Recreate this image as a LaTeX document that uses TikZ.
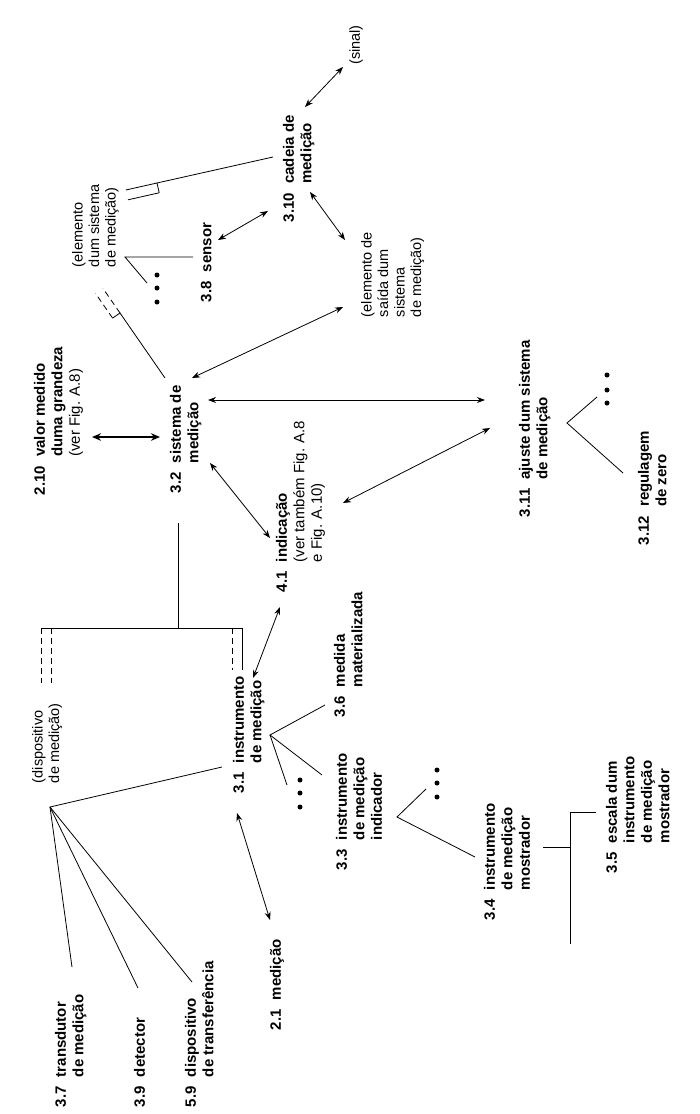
\documentclass[tikz,border=0pt]{standalone}
\usepackage{fontspec}
\setmainfont{Liberation Sans}
\usetikzlibrary{arrows.meta}
\newcommand\numsep{\hspace{9pt}}
\newcommand\gap[1]{\phantom{#1}\numsep}
\begin{document}
\begin{tikzpicture}[x=1pt,y=-1pt,
  term/.style={rotate=90,anchor=north west,inner sep=0pt,outer sep=0pt,align=left,font=\fontsize{15}{17.5}\selectfont\bfseries},
  note/.style={term,font=\fontsize{14.5}{16.5}\selectfont},
  conn/.style={line width=0.8pt},
  twoway/.style={conn,{Stealth[length=8pt,width=6pt]}-{Stealth[length=8pt,width=6pt]}},
  bigway/.style={line width=1.7pt,{Stealth[length=9pt,width=7.5pt]}-{Stealth[length=9pt,width=7.5pt]}},
  part/.style={conn,dash pattern=on 6pt off 4pt},
  dot/.style={circle,fill,inner sep=0pt,minimum size=5pt}
]
\useasboundingbox (0,0) rectangle (700,1114);

% ---------- labels ----------
\node[note,anchor=center] (sinal) at (356,45) {(sinal)};
\node[term] (t310) at (283,222) {3.10\numsep cadeia de\\\gap{3.10}medição};
\node[note] (elem) at (72,267) {(elemento\\dum sistema\\de medição)};
\node[term] (t38) at (201,302) {3.8\numsep sensor};
\node[note] (saida) at (361,317) {(elemento de\\saída dum\\sistema\\de medição)};
\node[term] (t210) at (34,495) {2.10\numsep valor medido\\\gap{2.10}duma grandeza\\\gap{2.10}{\mdseries (ver Fig. A.8)}};
\node[term] (t32) at (170,493) {3.2\numsep sistema de\\\gap{3.2}medição};
\node[term] (t41) at (276,592) {4.1\numsep indicação\\\gap{4.1}{\mdseries (ver também Fig. A.8}\\\gap{4.1}{\mdseries e Fig. A.10)}};
\node[term] (t311) at (519,517) {3.11\numsep ajuste dum sistema\\\gap{3.11}de medição};
\node[term] (t312) at (638,545) {3.12\numsep regulagem\\\gap{3.12}de zero};
\node[term] (t36) at (334,717) {3.6\numsep medida\\\gap{3.6}materializada};
\node[term] (t31) at (233,793) {3.1\numsep instrumento\\\gap{3.1}de medição};
\node[note] (disp) at (32,783) {(dispositivo\\de medição)};
\node[term] (t33) at (336,870) {3.3\numsep instrumento\\\gap{3.3}de medição\\\gap{3.3}indicador};
\node[term] (t34) at (484,920) {3.4\numsep instrumento\\\gap{3.4}de medição\\\gap{3.4}mostrador};
\node[term] (t35) at (606,873) {3.5\numsep escala dum\\\gap{3.5}instrumento\\\gap{3.5}de medição\\\gap{3.5}mostrador};
\node[term] (t21) at (270,1030) {2.1\numsep medição};
\node[term] (t37) at (55,1107) {3.7\numsep transdutor\\\gap{3.7}de medição};
\node[term] (t39) at (134,1107) {3.9\numsep detector};
\node[term] (t59) at (185,1107) {5.9\numsep dispositivo\\\gap{5.9}de transferência};

% ---------- connector end points ----------
\coordinate (cadSin) at (305,107); \coordinate (sinCad) at (343,67);
\coordinate (senCad) at (218,240); \coordinate (cadSen) at (268,211);
\coordinate (cadSai) at (310,192); \coordinate (saiCad) at (345,240);
\coordinate (cadElem) at (273,157); \coordinate (brkA) at (157,183);
\coordinate (sisElem) at (165,378); \coordinate (brkB) at (120,313);
\coordinate (sisSai) at (192,378); \coordinate (saiSis) at (343,307);
\coordinate (valSis) at (92,437); \coordinate (sisVal) at (160,437);
\coordinate (sisAju) at (208,400); \coordinate (ajuSis) at (485,400);
\coordinate (sisInd) at (210,463); \coordinate (indSis) at (270,538);
\coordinate (indAju) at (343,503); \coordinate (ajuInd) at (490,428);
\coordinate (sisBot) at (178,523); \coordinate (brMid) at (178,628);
\coordinate (brL) at (41,628); \coordinate (brL2) at (51,628);
\coordinate (brR2) at (232,628); \coordinate (brR) at (242,628);
\coordinate (indIns) at (280,607); \coordinate (insInd) at (253,678);
\coordinate (insApex) at (270,735);
\coordinate (to36) at (325,705); \coordinate (to33) at (322,775); \coordinate (toDotsA) at (287,785);
\coordinate (insDisp) at (222,767); \coordinate (dispApex) at (50,807);
\coordinate (to37) at (72,967); \coordinate (to39) at (138,988); \coordinate (to59) at (192,982);
\coordinate (insMed) at (237,813); \coordinate (medIns) at (270,920);
\coordinate (indApex) at (397,817); \coordinate (toDotsB) at (426,789); \coordinate (to34) at (475,857);
\coordinate (mosR) at (543,847); \coordinate (mosJ) at (570,847);
\coordinate (vTop) at (570,812); \coordinate (vBot) at (570,944); \coordinate (to35) at (596,812);
\coordinate (ajuApex) at (567,423); \coordinate (toDotsC) at (597,397); \coordinate (to312) at (623,473);
\coordinate (elemApex) at (125,257); \coordinate (to38) at (193,257); \coordinate (toDotsD) at (147,283);

% ---------- connectors ----------
\draw[twoway] (cadSin) -- (sinCad);
\draw[twoway] (senCad) -- (cadSen);
\draw[twoway] (cadSai) -- (saiCad);
\draw[conn] (cadElem) -- (brkA) -- ++(2.2,9.8) coordinate (brkA2);
\draw[conn] (brkA) -- ++(-31.2,7);
\draw[conn] (brkA2) -- ++(-31.2,7);
\draw[conn] (sisElem) -- (brkB) -- ++(-7.4,5.1) coordinate (brkB2);
\draw[part] (brkB) -- ++(-17.1,-24.7);
\draw[part] (brkB2) -- ++(-17.1,-24.7);
\draw[twoway] (sisSai) -- (saiSis);
\draw[bigway] (valSis) -- (sisVal);
\draw[twoway] (sisAju) -- (ajuSis);
\draw[twoway] (sisInd) -- (indSis);
\draw[twoway] (indAju) -- (ajuInd);
\draw[conn] (sisBot) -- (brMid);
\draw[conn] (brL) -- (brR) -- ++(0,42);
\draw[part] (brL) -- ++(0,55);
\draw[part] (brL2) -- ++(0,55);
\draw[part] (brR2) -- ++(0,42);
\draw[twoway] (indIns) -- (insInd);
\draw[conn] (to36) -- (insApex) -- (to33);
\draw[conn] (insApex) -- (toDotsA);
\draw[conn] (insDisp) -- (dispApex) -- (to37);
\draw[conn] (dispApex) -- (to39);
\draw[conn] (dispApex) -- (to59);
\draw[twoway] (insMed) -- (medIns);
\draw[conn] (toDotsB) -- (indApex) -- (to34);
\draw[conn] (mosR) -- (mosJ);
\draw[conn] (to35) -- (vTop) -- (vBot);
\draw[conn] (toDotsC) -- (ajuApex) -- (to312);
\draw[conn] (to38) -- (elemApex) -- (toDotsD);

% ---------- dots ----------
\foreach \n/\x/\y in {a1/300/780,a2/300/793,a3/300/807,
                      b1/437/770,b2/437/783,b3/437/797,
                      c1/607/375,c2/607/390,c3/607/403,
                      d1/157/275,d2/157/288,d3/157/302}
  \node[dot] (dot\n) at (\x,\y) {};
\end{tikzpicture}
\end{document}
